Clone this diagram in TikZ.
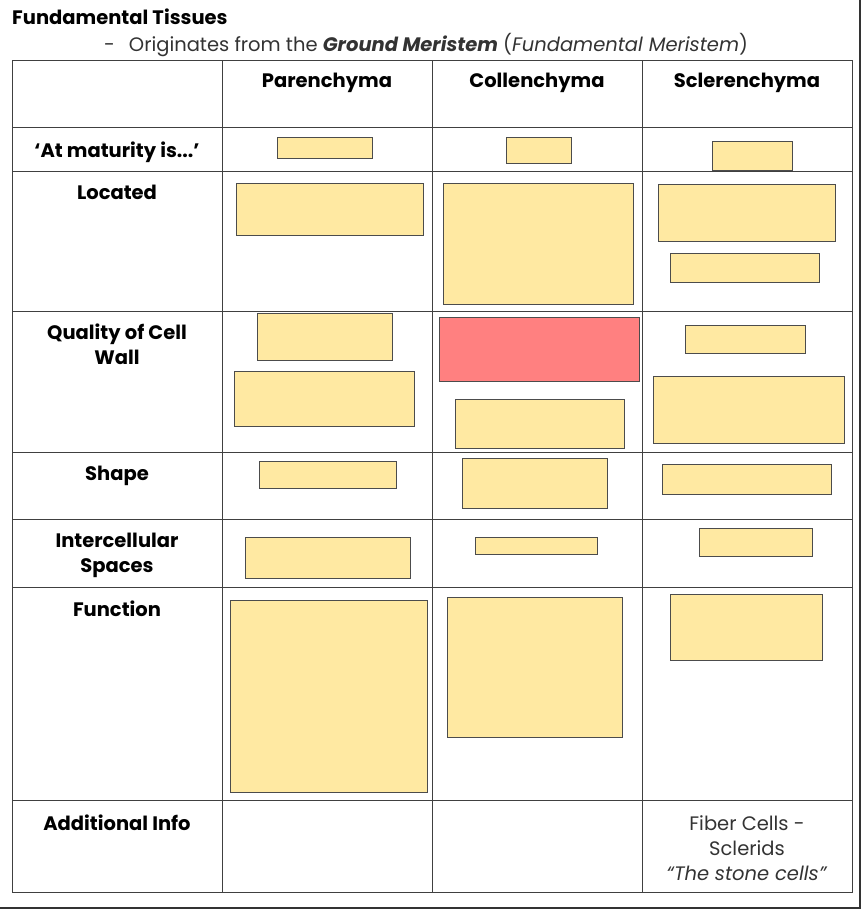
\documentclass[tikz,border=0pt]{standalone}
\usepackage{fontspec}
\setmainfont{Poppins}
\begin{document}
\begin{tikzpicture}[x=1pt,y=-1pt,
  yb/.style={draw=black!70,fill=ybcol},
  rb/.style={draw=black!70,fill=redcol},
  grid/.style={draw=black!75,line width=0.8pt},
  lab/.style={font=\fontsize{19.5}{25}\selectfont\bfseries,align=center,anchor=north,inner sep=0pt},
  txt/.style={font=\fontsize{19.5}{25}\selectfont,align=center,anchor=north,text=black!80,inner sep=0pt}]
\definecolor{ybcol}{HTML}{FFE9A2}
\definecolor{redcol}{HTML}{FF8080}
\useasboundingbox (0,0) rectangle (863,911);
\fill[white] (0,0) rectangle (863,911);
\draw[black!80,line width=1.2pt] (860,0) -- (860,908) -- (0,908);
\node[anchor=west,inner sep=0pt,font=\fontsize{19.5}{25}\selectfont\bfseries] (title) at (12,17) {Fundamental Tissues};
\node[anchor=west,inner sep=0pt,font=\fontsize{19.5}{25}\selectfont,text=black!80] (sub) at (104,45) {-\hspace{14pt}Originates from the \textbf{\textit{Ground Meristem}} (\textit{Fundamental Meristem})};
% grid
\draw[grid] (12,60) rectangle (852,892);
\foreach \x in {222,432,642} \draw[grid] (\x,60) -- (\x,892);
\foreach \y in {127,171,311,452,519,587,800} \draw[grid] (12,\y) -- (852,\y);
% headers
\node[lab] (h1) at (327,73) {Parenchyma};
\node[lab] (h2) at (537,73) {Collenchyma};
\node[lab] (h3) at (747,73) {Sclerenchyma};
\node[lab] (r1) at (117,142) {‘At maturity is...’};
\node[lab] (r2) at (117,185) {Located};
\node[lab] (r3) at (117,324) {Quality of Cell\\Wall};
\node[lab] (r4) at (117,466) {Shape};
\node[lab] (r5) at (117,533) {Intercellular\\Spaces};
\node[lab] (r6) at (117,601) {Function};
\node[lab] (r7) at (117,815) {Additional Info};
\node[txt] (add) at (747,815) {Fiber Cells -\\Sclerids\\\textit{“The stone cells”}};
% boxes
\foreach \a/\b/\c/\d in {277/137/372/158, 506/137/571/163, 712/141/792/170,
 236/183/423/235, 443/183/633/304, 658/184/835/241, 670/253/819/282,
 257/313/392/360, 234/371/414/426, 455/399/624/448, 685/325/805/353, 653/376/844/443,
 259/461/396/488, 462/458/607/508, 662/464/831/494,
 245/537/410/578, 475/537/597/554, 699/528/812/556,
 230/600/427/792, 447/597/622/737, 670/594/822/660}
  \draw[yb] (\a,\b) rectangle (\c,\d);
\draw[rb] (439,317) rectangle (639,381);
\end{tikzpicture}
\end{document}
